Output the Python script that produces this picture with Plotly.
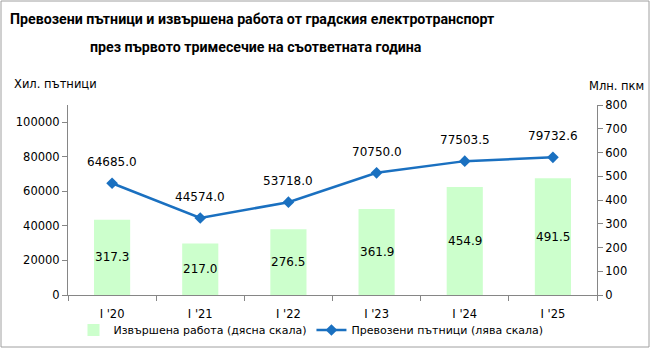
import plotly.graph_objects as go

categories = ["I '20", "I '21", "I '22", "I '23", "I '24", "I '25"]
work_mln_pkm = [317.3, 217.0, 276.5, 361.9, 454.9, 491.5]
passengers_thousand = [64685.0, 44574.0, 53718.0, 70750.0, 77503.5, 79732.6]
left_ticks = [0, 20000, 40000, 60000, 80000, 100000]
right_ticks = [0, 100, 200, 300, 400, 500, 600, 700, 800]

FONT = "DejaVu Sans"
GREY = "#868686"
LINE = "#1a70c0"
BAR = "#ccffcc"

# plot area in pixels
PL, PR, PT, PB = 68, 597, 105, 295
PW, PH = PR - PL, PB - PT


def px(x):
    return (x - PL) / PW


def py(y):
    return (PB - y) / PH


fig = go.Figure()
fig.add_trace(go.Bar(
    x=categories, y=work_mln_pkm, name="Извършена работа (дясна скала)",
    marker=dict(color=BAR, line=dict(width=0)), yaxis="y", textposition="none",
    hoverinfo="x+y",
))
fig.add_trace(go.Scatter(
    x=categories, y=passengers_thousand, name="Превозени пътници (лява скала)",
    mode="lines+markers", yaxis="y2",
    line=dict(color=LINE, width=2.5),
    marker=dict(symbol="diamond", size=9, color=LINE),
))

annotations = []
for c, v in zip(categories, work_mln_pkm):
    annotations.append(dict(x=c, y=v / 2, xref="x", yref="y", text=f"{v:.1f}",
                            showarrow=False, font=dict(family=FONT, size=12, color="#000")))
for c, v in zip(categories, passengers_thousand):
    annotations.append(dict(x=c, y=v, xref="x", yref="y2", text=f"{v:.1f}",
                            showarrow=False, yshift=21, font=dict(family=FONT, size=12, color="#000")))

TFONT = "Roboto, sans-serif"
annotations += [
    dict(x=px(252), y=py(19), xref="paper", yref="paper", xanchor="center", yanchor="middle",
         text="<b>Превозени пътници и извършена работа от градския електротранспорт</b>",
         showarrow=False, font=dict(family=TFONT, size=14.2, color="#000")),
    dict(x=px(256), y=py(47), xref="paper", yref="paper", xanchor="center", yanchor="middle",
         text="<b>през първото тримесечие на съответната година</b>",
         showarrow=False, font=dict(family=TFONT, size=14.2, color="#000")),
    dict(x=px(12), y=py(84), xref="paper", yref="paper", xanchor="left", yanchor="middle",
         text="Хил. пътници", showarrow=False, font=dict(family=FONT, size=11.5, color="#000")),
    dict(x=px(646), y=py(86), xref="paper", yref="paper", xanchor="right", yanchor="middle",
         text="Млн. пкм", showarrow=False, font=dict(family=FONT, size=11.5, color="#000")),
]

fig.update_layout(
    width=650, height=348,
    margin=dict(l=PL, r=650 - PR, t=PT, b=348 - PB, autoexpand=False),
    paper_bgcolor="white", plot_bgcolor="white",
    font=dict(family=FONT, size=11.5, color="#000"),
    bargap=0.59,
    showlegend=True,
    legend=dict(orientation="h", x=px(311), xanchor="center", y=py(330), yanchor="middle",
                font=dict(family=FONT, size=11, color="#000"), traceorder="normal",
                itemwidth=30, bgcolor="rgba(0,0,0,0)"),
    xaxis=dict(type="category", showline=True, linecolor=GREY, linewidth=1,
               ticks="outside", tickson="boundaries", ticklen=5, tickcolor=GREY,
               ticklabelstandoff=8,
               showgrid=False, zeroline=False, tickfont=dict(family=FONT, size=11.5)),
    yaxis=dict(side="right", range=[0, 800], tickvals=right_ticks, showline=True,
               linecolor=GREY, ticks="outside", ticklen=5, tickcolor=GREY,
               showgrid=False, zeroline=False, tickfont=dict(family=FONT, size=11.5)),
    yaxis2=dict(side="left", overlaying="y", range=[0, 110000], tickvals=left_ticks,
                tickformat="d", showline=True, linecolor=GREY, ticks="outside", ticklen=5,
                tickcolor=GREY, showgrid=False, zeroline=False,
                tickfont=dict(family=FONT, size=11.5)),
    annotations=annotations,
    shapes=[dict(type="rect", xref="paper", yref="paper", x0=px(1), x1=px(649),
                 y0=py(347), y1=py(1), line=dict(color="#a0a0a0", width=1))],
)

fig.write_html("out.html")
